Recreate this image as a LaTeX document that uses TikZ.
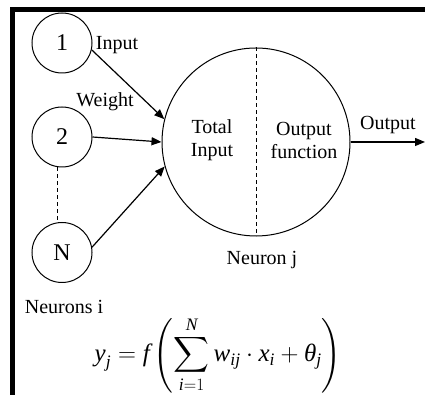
\documentclass[tikz,border=0pt]{standalone}
\usepackage{amsmath}
\usepackage{fontspec}
\setmainfont{Liberation Serif}
\usetikzlibrary{arrows.meta}
\newcommand\vi[1]{\text{\itshape #1}}
\begin{document}
\begin{tikzpicture}[x=1pt,y=1pt,
  lbl/.style={font=\fontsize{20}{23}\selectfont, inner sep=0pt},
  small/.style={circle, draw, line width=1pt, minimum size=60pt, inner sep=0pt, font=\fontsize{24}{26}\selectfont},
  conn/.style={line width=1.2pt, -{Triangle[length=10pt,width=8pt]}},
  dsh/.style={line width=1pt, dash pattern=on 4pt off 3pt}]
\useasboundingbox (0,0) rectangle (425,395);
% frame
\draw[line width=5pt, line join=miter] (12.5,0) -- (12.5,385.5) -- (425,385.5);
% input neurons
\node[small] (c1) at (62,352) {1};
\node[small] (c2) at (62,258) {2};
\node[small] (cN) at (62,142.5) {N};
% big neuron
\node[circle, draw, line width=1pt, minimum size=188pt, inner sep=0pt] (big) at (256,253) {};
\draw[dsh] (big.north) -- (big.south);
\draw[dsh] (c2.262) -- (cN.98);
% connectors
\draw[conn] (c1.-13) -- (big.166);
\draw[conn] (c2.east) -- (big.west);
\draw[conn] (cN.10) -- (big.195);
\coordinate (out) at (425,253);
\draw[conn] (big.east) -- (out);
% labels
\node[lbl] (linput) at (117,350) {Input};
\node[lbl] (lweight) at (105,293) {Weight};
\node[lbl, align=center] (ltot) at (212,255) {Total\\Input};
\node[lbl, align=center] (lfun) at (304,255) {Output\\function};
\node[lbl] (lout) at (388,270) {Output};
\node[lbl] (lnj) at (262,135) {Neuron j};
\node[lbl] (lni) at (64,88) {Neurons i};
\node[inner sep=0pt, font=\fontsize{25}{29}\selectfont] (formula) at (218,40)
  {$\displaystyle \vi{y}_{\vi{j}} = \vi{f}\left(\sum_{\vi{i}=1}^{\vi{N}} \vi{w}_{\vi{ij}}\cdot \vi{x}_{\vi{i}} + \vi{θ}_{\vi{j}}\right)$};
\end{tikzpicture}
\end{document}
